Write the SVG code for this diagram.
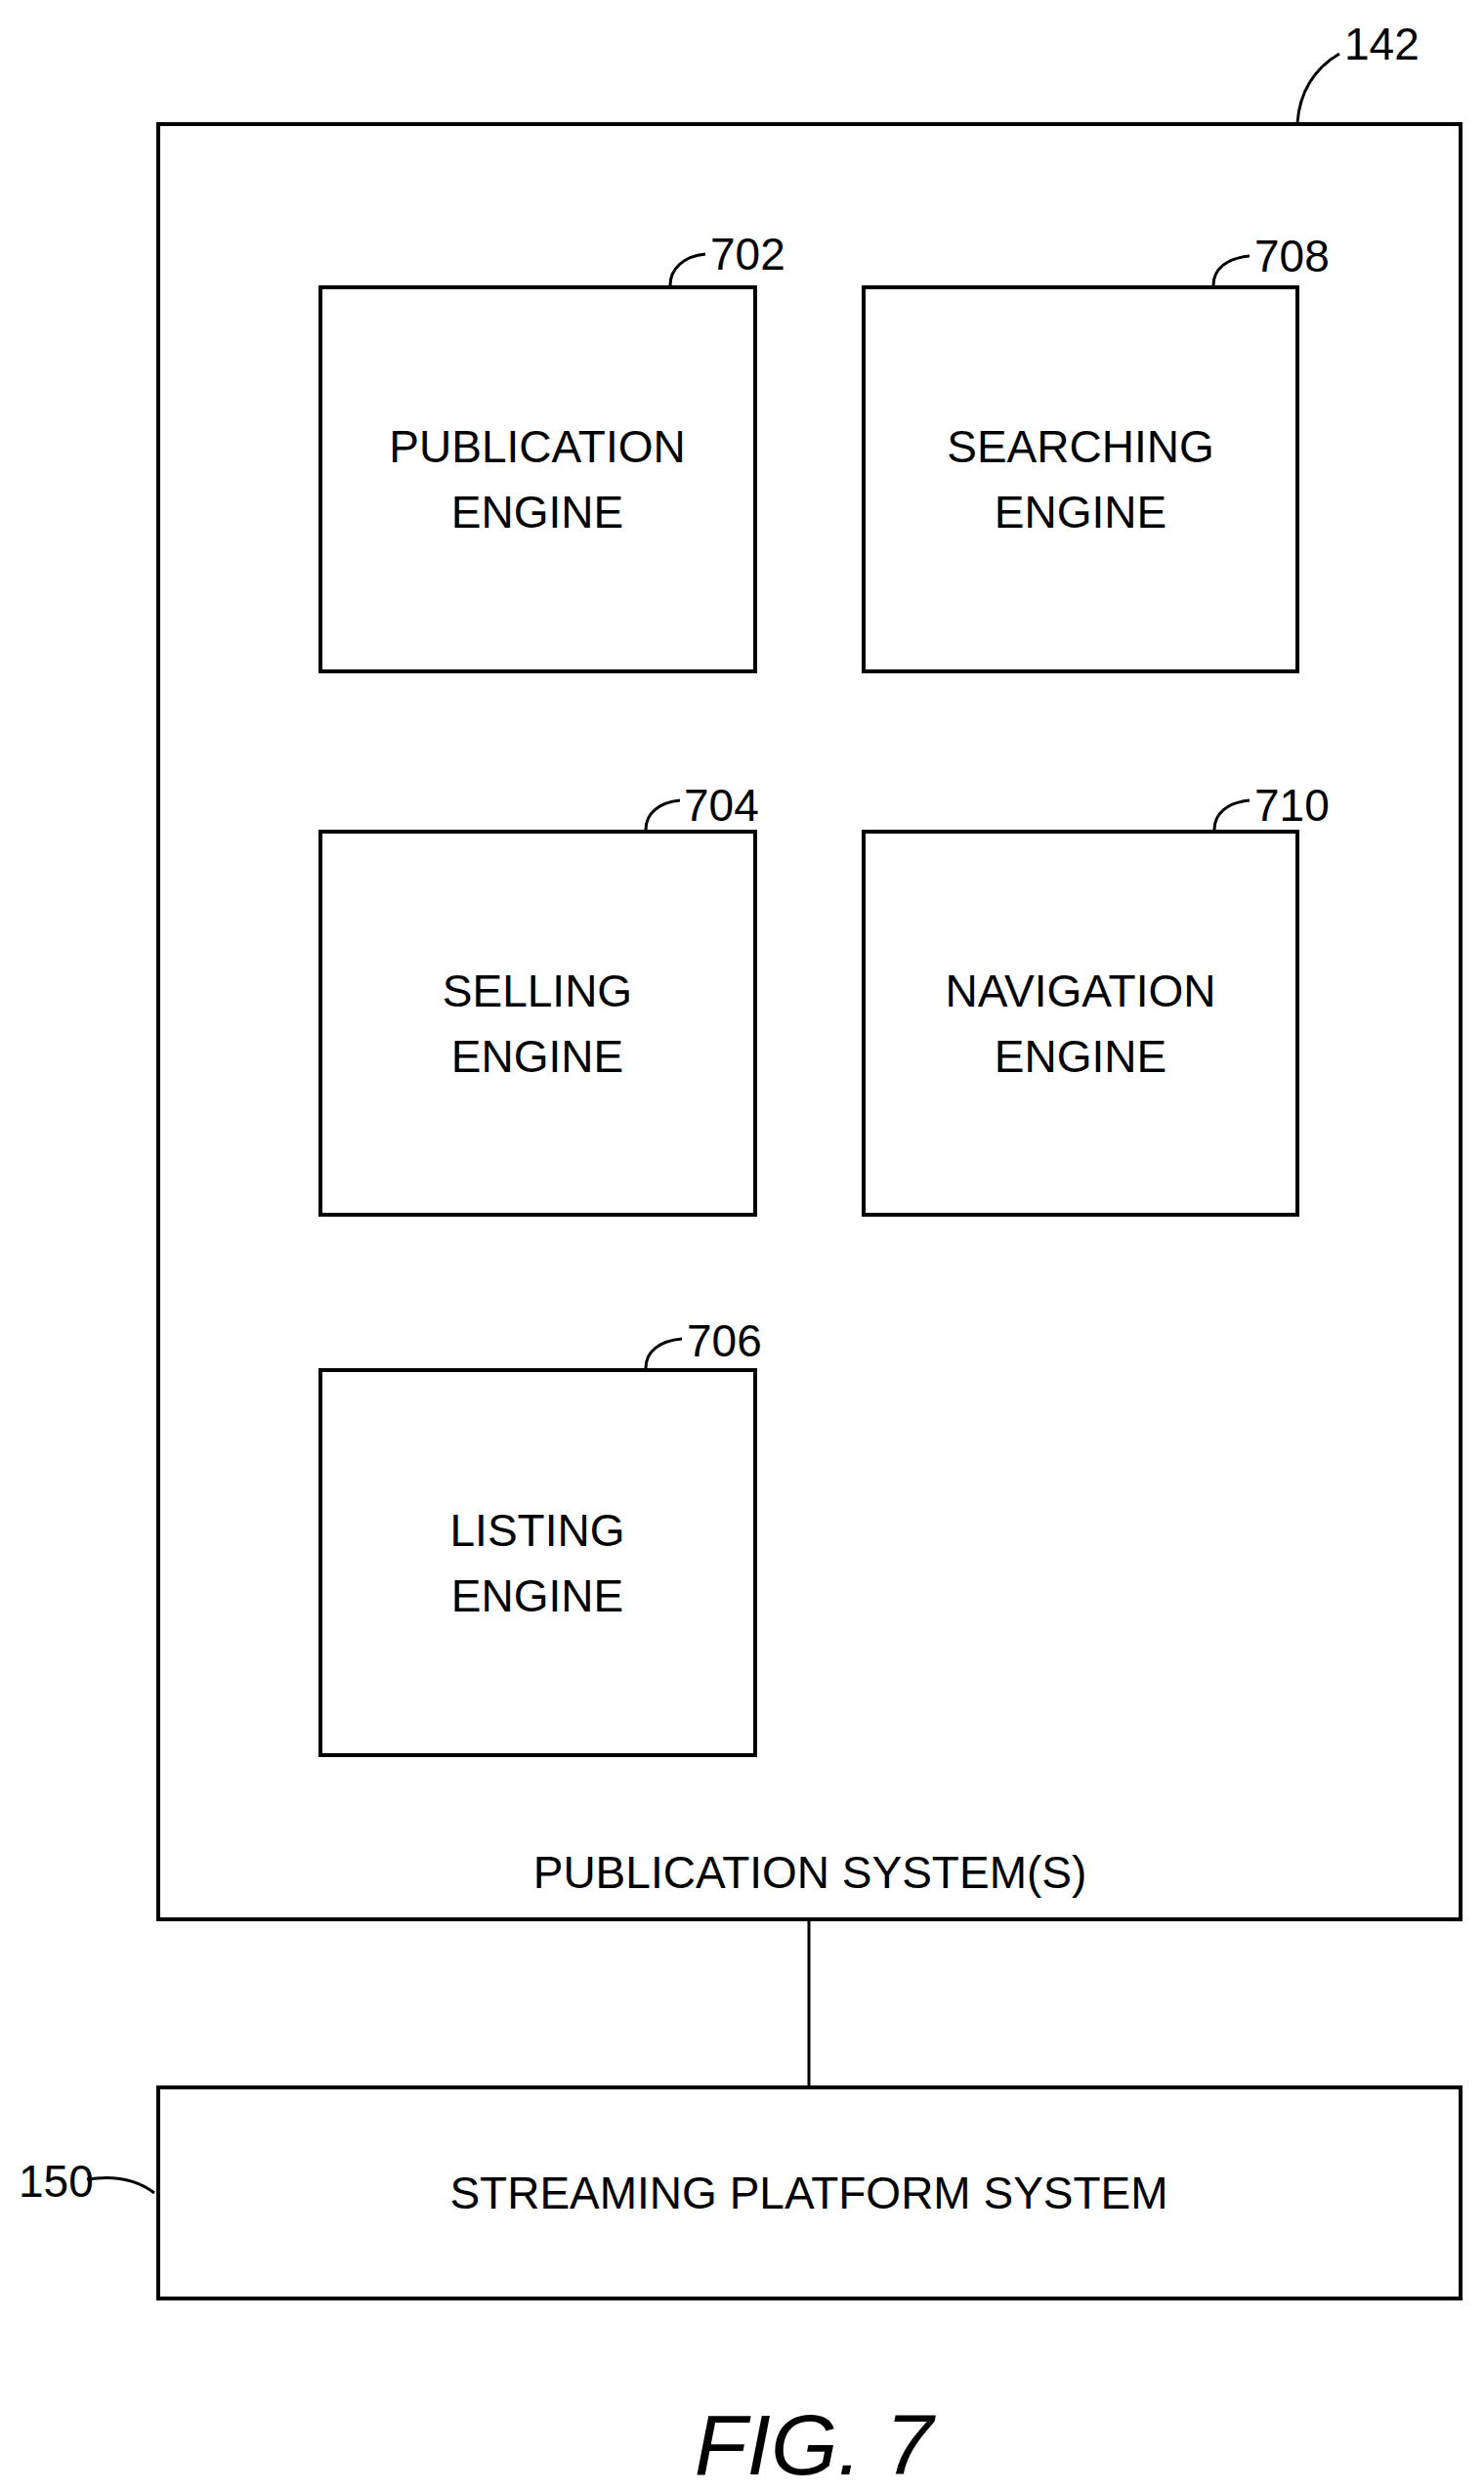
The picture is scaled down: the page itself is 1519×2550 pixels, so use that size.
<svg xmlns="http://www.w3.org/2000/svg" width="1519" height="2550" viewBox="0 0 1519 2550">
<style>
rect{fill:none;stroke:#000;stroke-width:4}
.l{fill:none;stroke:#000;stroke-width:3}
text{font-family:"Liberation Sans",Arial,sans-serif;font-size:46px;fill:#000;text-anchor:middle}
.n{text-anchor:start}
</style>
<rect x="0" y="0" width="1519" height="2550" style="fill:#fff;stroke:none"/>
<g id="n142">
<rect x="162" y="127" width="1333" height="1837"/>
<text x="829" y="1932">PUBLICATION SYSTEM(S)</text>
<path class="l" d="M1328 126 C1330 95 1345 70 1371 55"/>
<text class="n" x="1376" y="61">142</text>
</g>
<g id="n702">
<rect x="328" y="294" width="445" height="393"/>
<text x="550" y="473">PUBLICATION</text><text x="550" y="540">ENGINE</text>
<path class="l" d="M686 292 C686 275 700 262 722 260"/>
<text class="n" x="727" y="276">702</text>
</g>
<g id="n708">
<rect x="884" y="294" width="444" height="393"/>
<text x="1106" y="473">SEARCHING</text><text x="1106" y="540">ENGINE</text>
<path class="l" d="M1242 292 C1242 275 1256 264 1279 262"/>
<text class="n" x="1284" y="278">708</text>
</g>
<g id="n704">
<rect x="328" y="851" width="445" height="392"/>
<text x="550" y="1030">SELLING</text><text x="550" y="1097">ENGINE</text>
<path class="l" d="M661 849 C661 832 675 821 696 819"/>
<text class="n" x="700" y="840">704</text>
</g>
<g id="n710">
<rect x="884" y="851" width="444" height="392"/>
<text x="1106" y="1030">NAVIGATION</text><text x="1106" y="1097">ENGINE</text>
<path class="l" d="M1243 849 C1243 832 1257 821 1279 819"/>
<text class="n" x="1284" y="840">710</text>
</g>
<g id="n706">
<rect x="328" y="1402" width="445" height="394"/>
<text x="550" y="1582">LISTING</text><text x="550" y="1649">ENGINE</text>
<path class="l" d="M661 1400 C661 1383 675 1372 698 1370"/>
<text class="n" x="703" y="1388">706</text>
</g>
<g id="n150">
<rect x="162" y="2136" width="1333" height="216"/>
<text x="828" y="2260">STREAMING PLATFORM SYSTEM</text>
<path class="l" d="M89 2230 C115 2226 140 2230 158 2244"/>
<text class="n" x="19" y="2248">150</text>
</g>
<g id="connectors">
<line class="l" x1="828" y1="1964" x2="828" y2="2136"/>
</g>
<text x="833" y="2532" style="font-size:88px;font-style:italic">FIG. 7</text>
</svg>
